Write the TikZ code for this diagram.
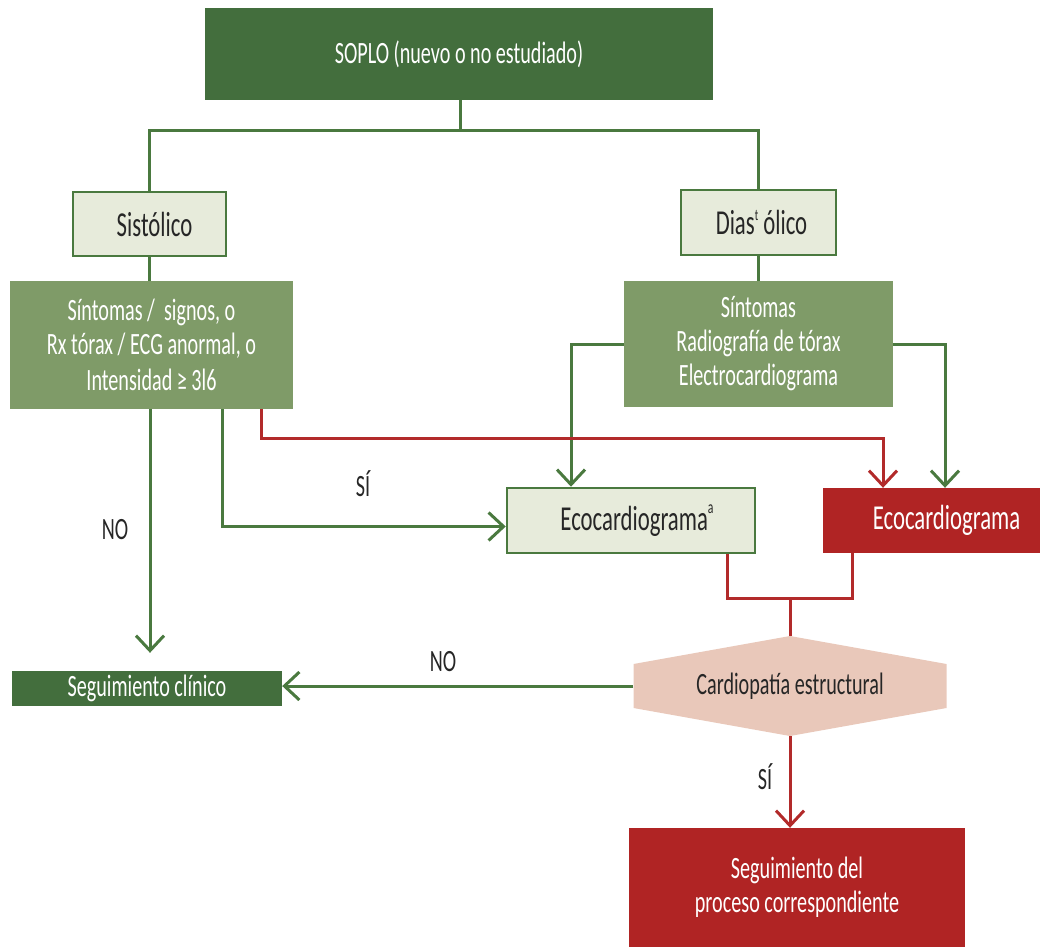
\documentclass[tikz,border=0pt]{standalone}
\usepackage{fontspec}
\setmainfont{Carlito}[FakeStretch=0.65]
\usetikzlibrary{arrows.meta,calc}

\definecolor{darkgreen}{HTML}{436E3D}
\definecolor{linegreen}{HTML}{4A793F}
\definecolor{palegreen}{HTML}{E7EBDB}
\definecolor{midgreen}{HTML}{7F9B68}
\definecolor{darkred}{HTML}{B02424}
\definecolor{linered}{HTML}{B22A2A}
\definecolor{peach}{HTML}{E9C8BA}
\definecolor{ink}{HTML}{262626}

\tikzset{
  box/.style={rectangle, inner sep=0pt, align=center},
  bigtext/.style={font=\fontsize{35}{38}\selectfont},
  solidbox/.style={box, fill=darkgreen, text=white},
  palebox/.style={box, fill=palegreen, draw=linegreen, line width=2.5pt, text=ink},
  symbox/.style={box, fill=midgreen, text=white},
  redbox/.style={box, fill=darkred, text=white},
  gline/.style={draw=linegreen, line width=3pt},
  rline/.style={draw=linered, line width=3pt},
  tip/.style={-{Straight Barb[length=15pt,width=28pt,line width=3pt]}},
  lbl/.style={text=ink, inner sep=0pt}
}
% shifts a label to the right inside its box by half the given amount
\newcommand{\offsetlabel}[2]{\hspace*{#1}\raisebox{-2.5pt}{#2}}

\begin{document}
\begin{tikzpicture}[x=1pt, y=-1pt, font=\fontsize{31}{34}\selectfont]
\useasboundingbox (0,0) rectangle (1040,947);

% decision boxes
\node[solidbox, minimum width=508pt, minimum height=92pt] (top) at (459,54) {SOPLO (nuevo o no estudiado)};
\node[palebox, bigtext, minimum width=153pt, minimum height=64pt] (sis) at (149.5,224)
  {\offsetlabel{10pt}{Sistólico}};
\node[palebox, bigtext, minimum width=155pt, minimum height=65pt] (dia) at (758.5,222.5)
  {\offsetlabel{6pt}{Dias\raisebox{0.4em}{\fontsize{16}{16}\selectfont t} ólico}};
\node[symbox, minimum width=283pt, minimum height=128pt] (symL) at (151.5,345)
  {Síntomas /\ \ signos, o\\ Rx tórax / ECG anormal, o\\[2pt] Intensidad ≥ 3l6};
\node[symbox, minimum width=269pt, minimum height=126pt] (symR) at (758.5,344)
  {Síntomas\\ Radiografía de tórax\\ Electrocardiograma};
\node[palebox, bigtext, minimum width=248pt, minimum height=65pt] (eco1) at (631,520.5)
  {\offsetlabel{12pt}{Ecocardiograma\raisebox{0.5em}{\fontsize{18}{18}\selectfont a}}};
\node[redbox, bigtext, minimum width=217pt, minimum height=65pt] (eco2) at (931.5,520.5)
  {\offsetlabel{30pt}{Ecocardiograma}};

% hexagonal decision node
\node[box, minimum width=313pt, minimum height=100pt, text=ink,
  path picture={\fill[peach] (path picture bounding box.north)
    -- ([yshift=-28pt]path picture bounding box.north east)
    -- ([yshift=28pt]path picture bounding box.south east)
    -- (path picture bounding box.south)
    -- ([yshift=28pt]path picture bounding box.south west)
    -- ([yshift=-28pt]path picture bounding box.north west) -- cycle;}]
  (hex) at (790,686) {\raisebox{-4pt}{Cardiopatía estructural}};

\node[solidbox, minimum width=270pt, minimum height=35pt] (segc) at (147,688.5)
  {\raisebox{-2pt}{Seguimiento clínico}};
\node[redbox, minimum width=336pt, minimum height=119pt] (segp) at (797,887.5)
  {Seguimiento del\\ proceso correspondiente};

% branching from the top box
\coordinate (split) at (460,130);
\draw[gline] (top.south -| split) -- (split);
\draw[gline] (split) -| (sis.north);
\draw[gline] (split) -| (dia.north);
\draw[gline] (sis.south) -- (symL.north -| sis.south);
\draw[gline] (dia.south) -- (symR.north -| dia.south);

% diastolic branch
\draw[gline, tip] (symR.west) -| ([xshift=-60pt]eco1.north);
\draw[gline, tip] (symR.east) -| ([xshift=13.5pt]eco2.north);

% systolic branch
\draw[gline, tip, shorten >=18pt] ([xshift=-1.5pt]symL.south) -- ([xshift=-1.5pt]symL.south |- segc.north);
\draw[gline, tip] ([xshift=70.5pt]symL.south) |- ([yshift=-6pt]eco1.west);
\draw[rline, tip] ([xshift=109.5pt]symL.south) -- ++(0,29) -| ([xshift=-48.5pt]eco2.north);

% joining the two echocardiograms
\coordinate (merge) at (790,598);
\draw[rline] ([xshift=96pt]eco1.south) |- (merge) -| ([xshift=-79.5pt]eco2.south);
\draw[rline] (merge) -- (hex.north);

% outcomes
\draw[gline, tip] (hex.west) -- (hex.west -| segc.east);
\draw[rline, tip] (hex.south) -- (segp.north -| hex.south);

% branch labels
\node[lbl] (si1) at (363,484) {SÍ};
\node[lbl] (no1) at (115,530) {NO};
\node[lbl] (no2) at (443,662) {NO};
\node[lbl] (si2) at (765,777) {SÍ};
\end{tikzpicture}
\end{document}
